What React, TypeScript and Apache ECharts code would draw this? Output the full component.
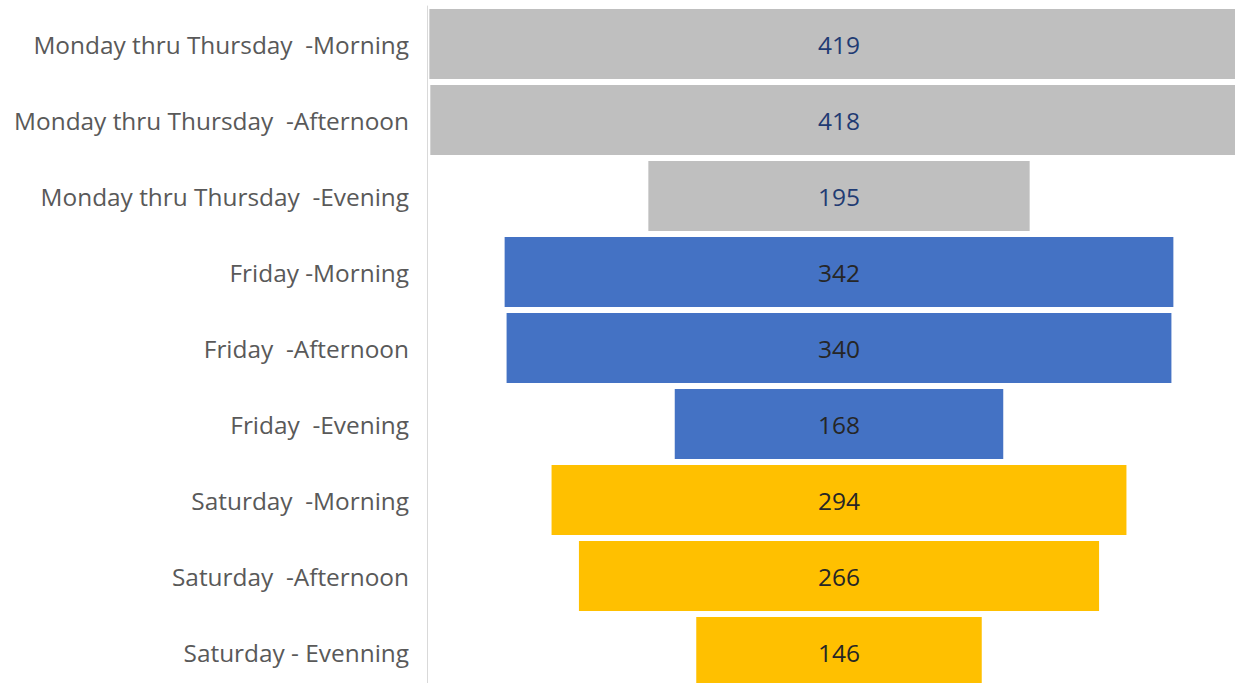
import React, { useEffect, useRef } from "react";
import * as echarts from "echarts";

const categories = [
  "Monday thru Thursday  -Morning",
  "Monday thru Thursday  -Afternoon",
  "Monday thru Thursday  -Evening",
  "Friday -Morning",
  "Friday  -Afternoon",
  "Friday  -Evening",
  "Saturday  -Morning",
  "Saturday  -Afternoon",
  "Saturday - Evenning",
];
const values = [419, 418, 195, 342, 340, 168, 294, 266, 146];
const barColors = [
  "#BFBFBF", "#BFBFBF", "#BFBFBF",
  "#4472C4", "#4472C4", "#4472C4",
  "#FFC000", "#FFC000", "#FFC000",
];
const labelColors = [
  "#1F3B73", "#1F3B73", "#1F3B73",
  "#262626", "#262626", "#262626",
  "#262626", "#262626", "#262626",
];

const FUNNEL_CENTER = 210.7;

export default function App() {
  const ref = useRef<HTMLDivElement>(null);
  useEffect(() => {
    if (!ref.current) return;
    const chart = echarts.init(ref.current, null, { renderer: "svg" });
    const offsets = values.map((v) => FUNNEL_CENTER - v / 2);
    chart.setOption({
      animation: false,
      backgroundColor: "#FFFFFF",
      grid: { left: 427, right: 0, top: 6, bottom: 0, containLabel: false },
      xAxis: {
        type: "value",
        min: 0,
        max: FUNNEL_CENTER * 2,
        show: false,
      },
      yAxis: {
        type: "category",
        inverse: true,
        data: categories,
        axisLine: { show: true, lineStyle: { color: "#D9D9D9", width: 1 } },
        axisTick: { show: false },
        splitLine: { show: false },
        axisLabel: {
          color: "#595959",
          fontFamily: "Open Sans",
          fontSize: 24.4,
          margin: 18,
          padding: [5, 0, 0, 0],
        },
      },
      series: [
        {
          type: "bar",
          stack: "funnel",
          data: offsets,
          itemStyle: { color: "transparent" },
          silent: true,
        },
        {
          type: "bar",
          stack: "funnel",
          barCategoryGap: "8%",
          data: values.map((v, i) => ({
            value: v,
            itemStyle: { color: barColors[i] },
            label: { color: labelColors[i] },
          })),
          label: {
            show: true,
            position: "inside",
            fontFamily: "Open Sans",
            fontSize: 24.5,
            padding: [5, 0, 0, 0],
          },
        },
      ],
    });
    return () => chart.dispose();
  }, []);
  return (
    <div
      ref={ref}
      style={{ position: "fixed", left: 0, top: 0, width: 1251, height: 690 }}
    />
  );
}
